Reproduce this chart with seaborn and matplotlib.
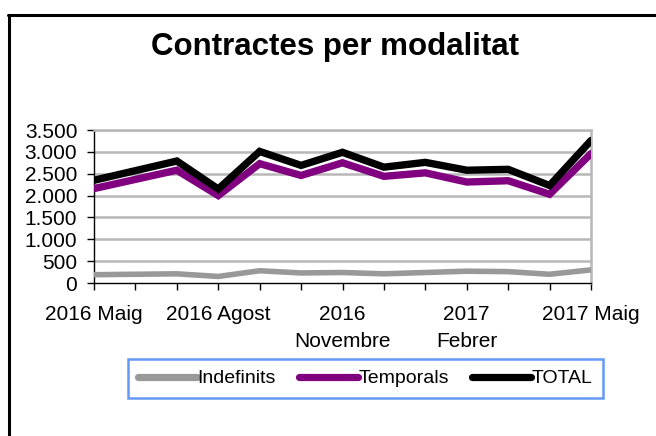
import numpy as np
import pandas as pd
import matplotlib
matplotlib.use('Agg')
import matplotlib.pyplot as plt
import seaborn as sns
from matplotlib.lines import Line2D

months = ["2016 Maig", "2016 Juny", "2016 Juliol", "2016 Agost", "2016 Setembre",
          "2016 Octubre", "2016\nNovembre", "2016 Desembre", "2017 Gener",
          "2017\nFebrer", "2017 Març", "2017 Abril", "2017 Maig"]
indefinits = [190, 200, 210, 150, 280, 230, 240, 210, 240, 270, 260, 200, 300]
temporals = [2160, 2370, 2580, 2000, 2730, 2460, 2750, 2440, 2520, 2310, 2340, 2030, 2960]
total = [2350, 2570, 2790, 2150, 3010, 2690, 2990, 2650, 2760, 2580, 2600, 2230, 3260]
yticks = [0, 500, 1000, 1500, 2000, 2500, 3000, 3500]

sns.set_theme(style="white")
plt.rcParams['font.family'] = ['Liberation Sans', 'DejaVu Sans']
plt.rcParams['text.color'] = 'black'
plt.rcParams['xtick.color'] = 'black'
plt.rcParams['ytick.color'] = 'black'

W, H = 656, 436
fig = plt.figure(figsize=(W / 100, H / 100), dpi=100)
fig.patch.set_facecolor("white")

# frame of the chart object (only left and top visible)
fig.add_artist(Line2D([8.5 / W, 8.5 / W], [0, 1 - 15 / H], color="black", lw=2.2,
                      transform=fig.transFigure))
fig.add_artist(Line2D([8 / W, 1], [1 - 15.5 / H, 1 - 15.5 / H], color="black", lw=2.2,
                      transform=fig.transFigure))

ax = fig.add_axes([94 / W, 1 - 283 / H, (591 - 94) / W, (283 - 130) / H])

df = pd.DataFrame({
    "x": list(range(len(months))) * 3,
    "value": indefinits + temporals + total,
    "serie": ["Indefinits"] * len(months) + ["Temporals"] * len(months) + ["TOTAL"] * len(months),
})
colors = {"Indefinits": "#999999", "Temporals": "#800080", "TOTAL": "#000000"}
widths = {"Indefinits": 4.0, "Temporals": 5.3, "TOTAL": 5.3}

for s in ["Indefinits", "Temporals", "TOTAL"]:
    sns.lineplot(data=df[df["serie"] == s], x="x", y="value", color=colors[s],
                 lw=widths[s], ax=ax, legend=False,
                 solid_joinstyle="miter", zorder=3)

ax.set_xlim(0, len(months) - 1)
ax.set_ylim(0, 3500)
ax.set_yticks(yticks)
ax.set_yticklabels([f"{v:,}".replace(",", ".") for v in yticks], fontsize=15)
ax.set_xticks(range(len(months)))
ax.set_xticklabels([m if i % 3 == 0 else "" for i, m in enumerate(months)],
                   fontsize=15, linespacing=1.55)
ax.set_xlabel("")
ax.set_ylabel("")

for v in yticks[1:]:
    ax.axhline(v, color="#b8b8b8", lw=1.8, zorder=1)

for side in ["top", "right"]:
    ax.spines[side].set_color("#b8b8b8")
    ax.spines[side].set_linewidth(1.8)
for side in ["left", "bottom"]:
    ax.spines[side].set_color("black")
    ax.spines[side].set_linewidth(1.0)

ax.tick_params(axis="y", direction="out", length=5, width=1, color="black", pad=7, left=True)
ax.tick_params(axis="x", direction="out", length=5, width=1, color="black", pad=11, bottom=True)

fig.text(335 / W, 1 - 55 / H, "Contractes per modalitat", ha="center", va="baseline",
         fontsize=22.5, fontweight="bold")

handles = [Line2D([0], [0], color=colors[s], lw=5.2, solid_capstyle="round")
           for s in ["Indefinits", "Temporals", "TOTAL"]]
leg = fig.legend(handles, ["Indefinits", "Temporals", "TOTAL"], loc="center",
                 bbox_to_anchor=(365.5 / W, 1 - 378.5 / H), ncol=3, fontsize=14,
                 handlelength=3.0, handletextpad=0.05, columnspacing=1.2,
                 fancybox=False, frameon=True, borderpad=0.55)
leg.get_frame().set_edgecolor("#3f7ff5")
leg.get_frame().set_linewidth(1.8)

fig.savefig("out.png", dpi=100, facecolor="white")
